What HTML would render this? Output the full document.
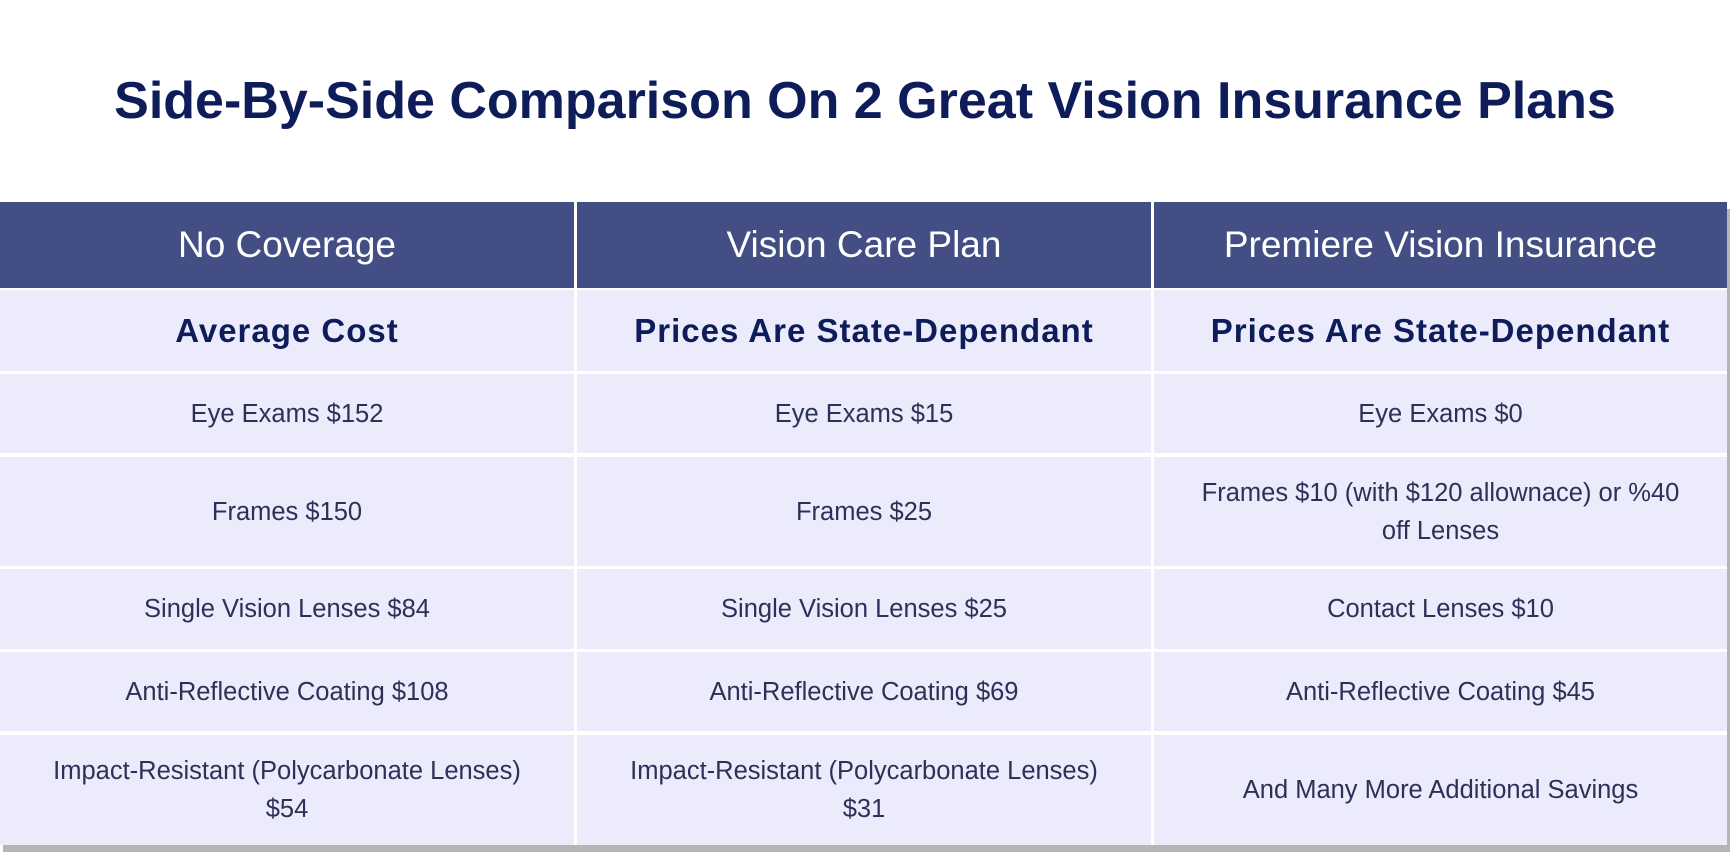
<!DOCTYPE html>
<html><head><meta charset="utf-8"><style>
html,body{margin:0;padding:0;width:1730px;height:852px;background:#fff;overflow:hidden;font-family:"Liberation Sans",sans-serif}
.t{position:absolute;left:0;top:71px;width:1730px;text-align:center;font-size:52px;font-weight:bold;color:#0e1d5a;letter-spacing:0px}
.wrap{position:absolute;left:0;top:202px;width:1727px;height:643px;background:#fff;box-shadow:3px 7px 0 #b5b5b5}
.c{position:absolute;display:flex;align-items:center;justify-content:center;text-align:center;box-sizing:border-box;padding:0 30px}
.h{background:#434f84;color:#fff;font-size:37px}
.b{background:#ebebfb;color:#2c3157;font-size:25.5px;line-height:38px}
.bb{font-weight:bold;font-size:33px;color:#0e1d5a;letter-spacing:1px}
.w{padding:0 45px}
</style></head><body>
<div class="t">Side-By-Side Comparison On 2 Great Vision Insurance Plans</div>
<div class="wrap">
<div class="c h" style="left:0;top:0;width:574px;height:86px">No Coverage</div>
<div class="c h" style="left:577px;top:0;width:574px;height:86px">Vision Care Plan</div>
<div class="c h" style="left:1154px;top:0;width:573px;height:86px">Premiere Vision Insurance</div>

<div class="c b bb" style="left:0;top:88px;width:574px;height:81px">Average Cost</div>
<div class="c b bb" style="left:577px;top:88px;width:574px;height:81px">Prices Are State-Dependant</div>
<div class="c b bb" style="left:1154px;top:88px;width:573px;height:81px">Prices Are State-Dependant</div>

<div class="c b" style="left:0;top:172px;width:574px;height:79px">Eye Exams $152</div>
<div class="c b" style="left:577px;top:172px;width:574px;height:79px">Eye Exams $15</div>
<div class="c b" style="left:1154px;top:172px;width:573px;height:79px">Eye Exams $0</div>

<div class="c b" style="left:0;top:255px;width:574px;height:109px">Frames $150</div>
<div class="c b" style="left:577px;top:255px;width:574px;height:109px">Frames $25</div>
<div class="c b" style="left:1154px;top:255px;width:573px;height:109px;padding:0 20px">Frames $10 (with $120 allownace) or %40<br>off Lenses</div>

<div class="c b" style="left:0;top:367px;width:574px;height:80px">Single Vision Lenses $84</div>
<div class="c b" style="left:577px;top:367px;width:574px;height:80px">Single Vision Lenses $25</div>
<div class="c b" style="left:1154px;top:367px;width:573px;height:80px">Contact Lenses $10</div>

<div class="c b" style="left:0;top:450px;width:574px;height:79px">Anti-Reflective Coating $108</div>
<div class="c b" style="left:577px;top:450px;width:574px;height:79px">Anti-Reflective Coating $69</div>
<div class="c b" style="left:1154px;top:450px;width:573px;height:79px">Anti-Reflective Coating $45</div>

<div class="c b w" style="left:0;top:533px;width:574px;height:110px">Impact-Resistant (Polycarbonate Lenses) $54</div>
<div class="c b w" style="left:577px;top:533px;width:574px;height:110px">Impact-Resistant (Polycarbonate Lenses) $31</div>
<div class="c b" style="left:1154px;top:533px;width:573px;height:110px">And Many More Additional Savings</div>
</div>
</body></html>
